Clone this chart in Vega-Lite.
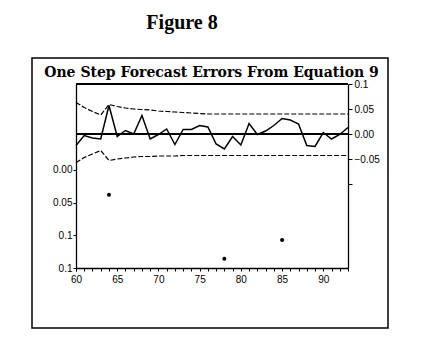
{
  "$schema": "https://vega.github.io/schema/vega-lite/v6.json",
  "width": 356,
  "height": 270,
  "autosize": {"type": "none"},
  "padding": {"left": 32, "top": 58, "right": 33, "bottom": 27},
  "background": "white",
  "title": {
    "text": "Figure 8",
    "font": "Liberation Serif",
    "fontSize": 20,
    "fontWeight": "bold",
    "color": "black",
    "anchor": "middle",
    "frame": "group",
    "dx": -28,
    "offset": 25
  },
  "config": {
    "view": {"stroke": "black", "strokeWidth": 1.5},
    "axis": {
      "grid": false,
      "domainColor": "black",
      "domainWidth": 1.3,
      "tickColor": "black",
      "tickWidth": 1,
      "labelColor": "black",
      "labelFont": "Liberation Sans",
      "labelFontSize": 10
    }
  },
  "datasets": {
    "series": [
      {"year": 60, "resid": -0.023, "upper": 0.063, "lower": -0.057},
      {"year": 61, "resid": -0.003, "upper": 0.053, "lower": -0.047},
      {"year": 62, "resid": -0.008, "upper": 0.045, "lower": -0.040},
      {"year": 63, "resid": -0.010, "upper": 0.038, "lower": -0.033},
      {"year": 64, "resid": 0.057, "upper": 0.059, "lower": -0.053},
      {"year": 65, "resid": -0.005, "upper": 0.055, "lower": -0.050},
      {"year": 66, "resid": 0.007, "upper": 0.052, "lower": -0.048},
      {"year": 67, "resid": 0.000, "upper": 0.050, "lower": -0.046},
      {"year": 68, "resid": 0.037, "upper": 0.049, "lower": -0.045},
      {"year": 69, "resid": -0.010, "upper": 0.048, "lower": -0.045},
      {"year": 70, "resid": -0.001, "upper": 0.046, "lower": -0.044},
      {"year": 71, "resid": 0.010, "upper": 0.045, "lower": -0.044},
      {"year": 72, "resid": -0.021, "upper": 0.044, "lower": -0.044},
      {"year": 73, "resid": 0.009, "upper": 0.043, "lower": -0.043},
      {"year": 74, "resid": 0.009, "upper": 0.042, "lower": -0.043},
      {"year": 75, "resid": 0.017, "upper": 0.041, "lower": -0.043},
      {"year": 76, "resid": 0.014, "upper": 0.040, "lower": -0.043},
      {"year": 77, "resid": -0.020, "upper": 0.040, "lower": -0.043},
      {"year": 78, "resid": -0.030, "upper": 0.040, "lower": -0.043},
      {"year": 79, "resid": -0.005, "upper": 0.040, "lower": -0.043},
      {"year": 80, "resid": -0.022, "upper": 0.040, "lower": -0.043},
      {"year": 81, "resid": 0.021, "upper": 0.040, "lower": -0.043},
      {"year": 82, "resid": -0.001, "upper": 0.040, "lower": -0.043},
      {"year": 83, "resid": 0.006, "upper": 0.040, "lower": -0.043},
      {"year": 84, "resid": 0.017, "upper": 0.040, "lower": -0.043},
      {"year": 85, "resid": 0.031, "upper": 0.040, "lower": -0.043},
      {"year": 86, "resid": 0.028, "upper": 0.040, "lower": -0.043},
      {"year": 87, "resid": 0.020, "upper": 0.040, "lower": -0.043},
      {"year": 88, "resid": -0.023, "upper": 0.040, "lower": -0.043},
      {"year": 89, "resid": -0.025, "upper": 0.040, "lower": -0.043},
      {"year": 90, "resid": 0.003, "upper": 0.040, "lower": -0.043},
      {"year": 91, "resid": -0.010, "upper": 0.040, "lower": -0.043},
      {"year": 92, "resid": -0.001, "upper": 0.040, "lower": -0.043},
      {"year": 93, "resid": 0.013, "upper": 0.040, "lower": -0.043}
    ],
    "probs": [
      {"year": 64, "prob": 0.038},
      {"year": 78, "prob": 0.136},
      {"year": 85, "prob": 0.107}
    ]
  },
  "layer": [
    {
      "data": {"name": "series"},
      "layer": [
        {
          "mark": {"type": "line", "color": "black", "strokeWidth": 1.5},
          "encoding": {
            "x": {
              "field": "year",
              "type": "quantitative",
              "scale": {"domain": [60, 93], "range": [44, 316], "nice": false, "zero": false},
              "axis": {
                "orient": "bottom",
                "offset": -60,
                "values": [60, 65, 70, 75, 80, 85, 90],
                "format": "d",
                "labelOverlap": false,
                "labelFlush": false,
                "tickSize": 3,
                "labelPadding": 3,
                "title": "One Step Forecast Errors From Equation 9",
                "titleFont": "DejaVu Serif",
                "titleFontSize": 14,
                "titleFontWeight": "bold",
                "titleColor": "black",
                "titleX": 179,
                "titleY": -196,
                "titleAlign": "center",
                "titleBaseline": "middle",
                "titleAnchor": null
              }
            },
            "y": {
              "field": "resid",
              "type": "quantitative",
              "scale": {"domain": [-0.268, 0.1], "range": [210, 26], "nice": false, "zero": false},
              "axis": {
                "orient": "right",
                "offset": -40,
                "values": [0.1, 0.05, 0, -0.05, -0.1],
                "labelExpr": "datum.value == 0.1 ? '0.1' : (datum.value < -0.07 ? '' : format(datum.value, '.2f'))",
                "tickSize": 4,
                "labelPadding": 2,
                "title": null
              }
            }
          }
        },
        {
          "mark": {"type": "line", "color": "black", "strokeWidth": 1.2, "strokeDash": [5, 2]},
          "encoding": {
            "x": {"field": "year", "type": "quantitative"},
            "y": {"field": "upper", "type": "quantitative"}
          }
        },
        {
          "mark": {"type": "line", "color": "black", "strokeWidth": 1.2, "strokeDash": [5, 2]},
          "encoding": {
            "x": {"field": "year", "type": "quantitative"},
            "y": {"field": "lower", "type": "quantitative"}
          }
        },
        {
          "mark": {"type": "rule", "color": "black", "strokeWidth": 1.6},
          "encoding": {
            "x": {"datum": 60, "type": "quantitative"},
            "x2": {"datum": 93},
            "y": {"datum": 0, "type": "quantitative"}
          }
        },
        {
          "mark": {"type": "rule", "color": "black", "strokeWidth": 1.3},
          "encoding": {
            "x": {"datum": 60, "type": "quantitative"},
            "x2": {"datum": 93},
            "y": {"datum": 0.1, "type": "quantitative"}
          }
        }
      ]
    },
    {
      "data": {"name": "probs"},
      "mark": {"type": "point", "filled": true, "color": "black", "size": 16, "opacity": 1},
      "encoding": {
        "x": {
          "field": "year",
          "type": "quantitative",
          "axis": {
            "orient": "bottom",
            "offset": -60,
            "values": [60,61,62,63,64,66,67,68,69,71,72,73,74,76,77,78,79,81,82,83,84,86,87,88,89,91,92,93],
            "labels": false,
            "domain": false,
            "tickSize": 3,
            "title": null
          }
        },
        "y": {
          "field": "prob",
          "type": "quantitative",
          "scale": {"domain": [-0.1315, 0.15], "range": [26, 210], "nice": false, "zero": false},
          "axis": {
            "orient": "left",
            "offset": -44,
            "values": [0, 0.05, 0.1, 0.15],
            "labelExpr": "datum.value == 0 ? '0.00' : (datum.value < 0.07 ? '0.05' : '0.1')",
            "tickSize": 3,
            "labelPadding": 1,
            "title": null
          }
        }
      }
    }
  ],
  "resolve": {"scale": {"y": "independent"}, "axis": {"y": "independent", "x": "independent"}}
}
